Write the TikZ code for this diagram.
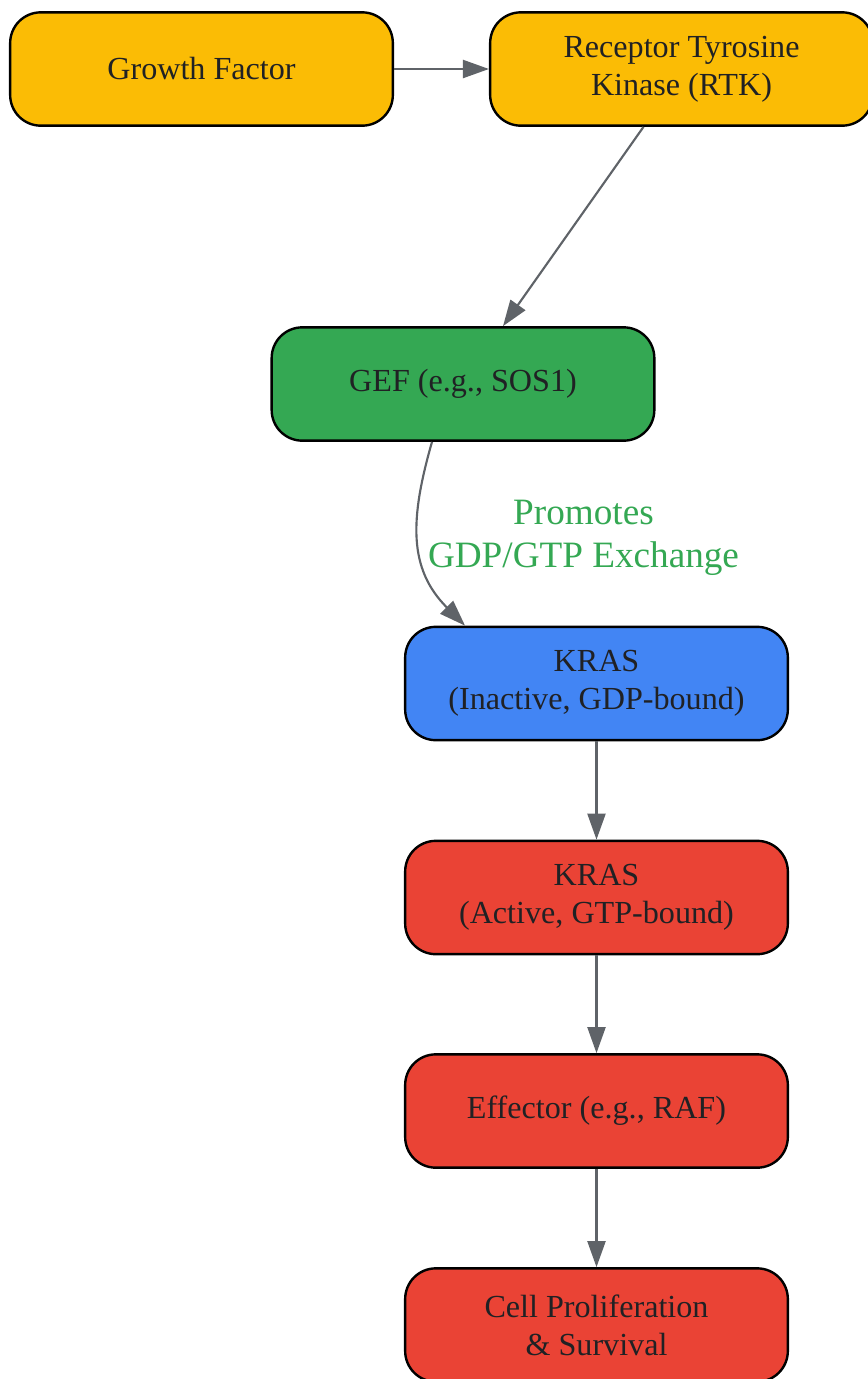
\documentclass[tikz,border=0pt]{standalone}
\usepackage{fontspec}
\setmainfont{Liberation Serif}
\usetikzlibrary{arrows.meta,positioning}
\definecolor{gyellow}{HTML}{FBBC05}
\definecolor{ggreen}{HTML}{34A853}
\definecolor{gblue}{HTML}{4285F4}
\definecolor{gred}{HTML}{EA4335}
\definecolor{edgegray}{HTML}{5F6368}
\definecolor{textdark}{HTML}{202124}
\newcommand{\boxfont}{\fontsize{24.1pt}{28.6pt}\selectfont}
\newcommand{\labelfont}{\fontsize{27.9pt}{32.4pt}\selectfont}
\tikzset{
  stepnode/.style={draw=black, line width=1.8pt, rounded corners=23pt,
    minimum width=287pt, minimum height=85pt, inner sep=0pt,
    align=center, text=textdark, font=\boxfont},
  link/.style={draw=edgegray, line width=1.6pt,
    -{Triangle[length=19.5pt, width=13.5pt]}}
}
\begin{document}
\begin{tikzpicture}[x=0.75pt, y=-0.75pt]
    \useasboundingbox (0,0) rectangle (868,1379);

    % Верхний ряд
    \node[stepnode, fill=gyellow] (gf)  at (201.5,69) {Growth Factor};
    \node[stepnode, fill=gyellow] (rtk) at (681.5,69) {Receptor Tyrosine\\Kinase (RTK)};

    % GEF
    \node[stepnode, fill=ggreen] (gef) at (463,384) {GEF (e.g., SOS1)};

    % Столбец KRAS
    \node[stepnode, fill=gblue] (krasoff) at (596.5,683.5) {KRAS\\(Inactive, GDP-bound)};
    \node[stepnode, fill=gred]  (krason)  at (596.5,897.5) {KRAS\\(Active, GTP-bound)};
    \node[stepnode, fill=gred]  (effector) at (596.5,1111) {Effector (e.g., RAF)};
    \node[stepnode, fill=gred]  (cell)    at (596.5,1325) {Cell Proliferation\\\& Survival};

    % Подпись
    \node[align=center, text=ggreen, font=\labelfont] (exlabel) at (583.5,538)
        {Promotes\\GDP/GTP Exchange};

    % Стрелки
    \draw[link] (gf) -- (rtk);
    \draw[link] ([xshift=-28.5pt]rtk.south) -- ([xshift=30pt]gef.north);
    \draw[link] ([xshift=-23.25pt]gef.south) to[out=-106,in=135, looseness=1.1]
        ([xshift=-98.6pt]krasoff.north);
    \draw[link] (krasoff) -- (krason);
    \draw[link] (krason) -- (effector);
    \draw[link] (effector) -- (cell);
\end{tikzpicture}
\end{document}
